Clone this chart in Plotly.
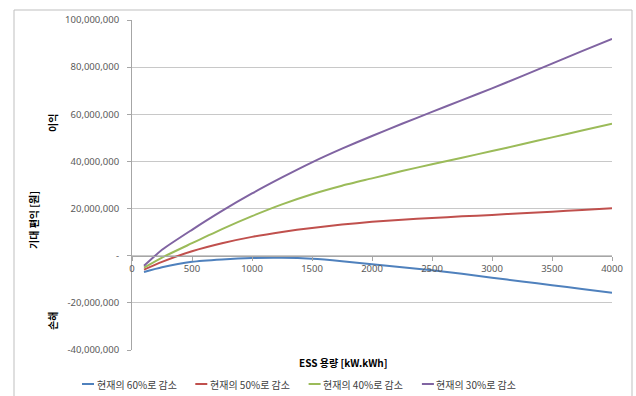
import plotly.graph_objects as go

# ESS capacity [kW.kWh]
capacity = [100, 250, 500, 750, 1000, 1250, 1500, 1750, 2000,
            2250, 2500, 2750, 3000, 3250, 3500, 3750, 4000]

# Expected benefit [won] for each reduction scenario (millions of won)
cut_60 = [-6.9, -4.9, -2.6, -1.6, -1.0, -0.9, -1.3, -2.3, -3.6,
          -4.9, -6.2, -7.7, -9.3, -10.9, -12.5, -14.1, -15.7]
cut_50 = [-5.9, -2.6, 1.9, 5.3, 8.0, 10.1, 11.8, 13.2, 14.4,
          15.3, 16.0, 16.7, 17.3, 18.0, 18.7, 19.4, 20.1]
cut_40 = [-5.1, -0.8, 5.3, 11.3, 16.8, 21.8, 26.1, 29.7, 32.8,
          35.9, 38.8, 41.6, 44.4, 47.3, 50.2, 53.1, 56.0]
cut_30 = [-4.3, 2.5, 11.0, 19.0, 26.4, 33.2, 39.6, 45.4, 50.8,
          56.0, 61.0, 66.0, 71.0, 76.2, 81.5, 86.8, 92.0]

series_names = ["현재의 60%로 감소", "현재의 50%로 감소", "현재의 40%로 감소", "현재의 30%로 감소"]
series_values = [cut_60, cut_50, cut_40, cut_30]
colors = ["#4F81BD", "#C0504D", "#9BBB59", "#8064A2"]

y_ticks = [-40e6, -20e6, 0, 20e6, 40e6, 60e6, 80e6, 100e6]
y_ticktext = ["-40,000,000", "-20,000,000", "-", "20,000,000", "40,000,000",
              "60,000,000", "80,000,000", "100,000,000"]
x_ticks = [0, 500, 1000, 1500, 2000, 2500, 3000, 3500, 4000]

W, H = 636, 396
L, R, T, B = 132, 24, 20, 46
PW, PH = W - L - R, H - T - B


def px(x):
    return (x - L) / PW


def py(y):
    return (H - B - y) / PH


FONT = "Noto Sans, Noto Sans CJK KR"
KFONT = "Noto Sans CJK KR"

fig = go.Figure()
for name, vals, c in zip(series_names, series_values, colors):
    fig.add_trace(go.Scatter(
        x=capacity, y=[v * 1e6 for v in vals], name=name, mode="lines",
        line=dict(color=c, width=2, shape="spline", smoothing=0.6),
        showlegend=False, hoverinfo="skip"))

shapes = [
    # outer chart border
    dict(type="rect", xref="paper", yref="paper",
         x0=px(14), x1=px(632), y0=py(10), y1=py(420),
         line=dict(color="#BFBFBF", width=1), layer="below"),
]
annotations = [
    dict(text="<b>기대 편익 [원]</b>", x=px(33), y=py(220), textangle=-90),
    dict(text="<b>이익</b>", x=px(52), y=py(123), textangle=-90),
    dict(text="<b>손해</b>", x=px(52), y=py(321), textangle=-90),
    dict(text="<b>ESS 용량 [kW.kWh]</b>", x=px(343.5), y=py(362.5)),
]
for a in annotations:
    a.update(xref="paper", yref="paper", showarrow=False,
             font=dict(family=KFONT, size=10, color="#000000"),
             xanchor="center", yanchor="middle")

# legend row
leg_y = 384
for i, (name, c) in enumerate(zip(series_names, colors)):
    x0 = 82 + i * 113.3
    shapes.append(dict(type="line", xref="paper", yref="paper",
                       x0=px(x0), x1=px(x0 + 12), y0=py(leg_y), y1=py(leg_y),
                       line=dict(color=c, width=2)))
    annotations.append(dict(text=name, xref="paper", yref="paper",
                            x=px(x0 + 12.5), y=py(leg_y), showarrow=False,
                            xanchor="left", yanchor="middle",
                            font=dict(family=KFONT, size=10, color="#404040")))

fig.update_layout(
    width=W, height=H,
    margin=dict(l=L, r=R, t=T, b=B),
    paper_bgcolor="white", plot_bgcolor="white",
    font=dict(family=FONT, size=9.5, color="#595959"),
    shapes=shapes, annotations=annotations,
    xaxis=dict(range=[0, 4000], tickvals=x_ticks, ticktext=[str(v) for v in x_ticks],
               showgrid=False, zeroline=False, showline=True, linecolor="#A6A6A6",
               linewidth=1, ticks="outside", ticklen=4, tickcolor="#A6A6A6",
               anchor="free", position=40 / 140, fixedrange=True),
    yaxis=dict(range=[-40e6, 100e6], tickvals=y_ticks, ticktext=y_ticktext,
               showgrid=True, gridcolor="#C8C8C8", gridwidth=1, zeroline=False,
               showline=True, linecolor="#A6A6A6", linewidth=1,
               ticks="outside", ticklen=4, tickcolor="#A6A6A6",
               ticklabelstandoff=6, fixedrange=True),
)

fig.write_html("out.html")
